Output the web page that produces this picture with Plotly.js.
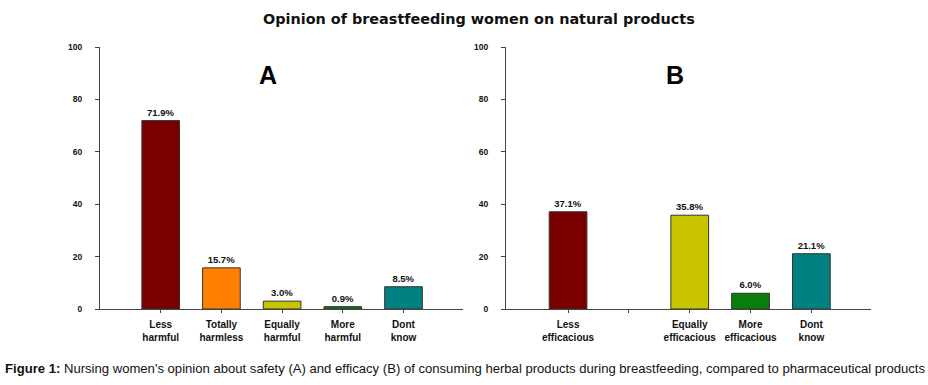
<!DOCTYPE html>
<html>
<head>
<meta charset="utf-8">
<script src="https://cdn.plot.ly/plotly-3.0.1.min.js"></script>
<style>html,body{margin:0;padding:0;background:#fff}#chart{width:928px;height:385px}</style>
</head>
<body>
<div id="chart"></div>
<script>
const labelsA = ["Less<br>harmful", "Totally<br>harmless", "Equally<br>harmful", "More<br>harmful", "Dont<br>know"];
const valuesA = [71.9, 15.7, 3.0, 0.9, 8.5];
const textA = ["71.9%", "15.7%", "3.0%", "0.9%", "8.5%"];
const colorsA = ["#7a0000", "#ff8000", "#c8c400", "#0a7d0a", "#008080"];

const labelsB = ["Less<br>efficacious", " ", "Equally<br>efficacious", "More<br>efficacious", "Dont<br>know"];
const valuesB = [37.1, null, 35.8, 6.0, 21.1];
const textB = ["37.1%", "", "35.8%", "6.0%", "21.1%"];
const colorsB = ["#7a0000", "#ffffff", "#c8c400", "#0a7d0a", "#008080"];

const yTicks = [0, 20, 40, 60, 80, 100];
const title = "Opinion of breastfeeding women on natural products";
const caption = "<b>Figure 1:</b> Nursing women's opinion about safety (A) and efficacy (B) of consuming herbal products during breastfeeding, compared to pharmaceutical products";

const W = 928, H = 385;
const barFont = {family: "Liberation Sans, Arial, sans-serif", size: 9.5, color: "#111", weight: "bold"};

const traces = [
  {type: "bar", x: labelsA, y: valuesA, text: textA, textposition: "outside", cliponaxis: false,
   textfont: barFont, marker: {color: colorsA, line: {color: "#333", width: 1}}, width: 0.62,
   xaxis: "x", yaxis: "y", hoverinfo: "none"},
  {type: "bar", x: labelsB, y: valuesB, text: textB, textposition: "outside", cliponaxis: false,
   textfont: barFont, marker: {color: colorsB, line: {color: "#333", width: 1}}, width: 0.62,
   xaxis: "x2", yaxis: "y2", hoverinfo: "none"}
];

const yDom = [1 - 309 / H, 1 - 47 / H];
const axCommon = {
  showgrid: false, zeroline: false, showline: true, linecolor: "#444", linewidth: 1,
  ticks: "outside", ticklen: 3, tickcolor: "#444", fixedrange: true
};
const xTickFont = {family: "Liberation Sans, Arial, sans-serif", size: 10, color: "#111", weight: "bold"};
const yTickFont = {family: "Liberation Sans, Arial, sans-serif", size: 8.5, color: "#111", weight: "bold"};

const layout = {
  width: W, height: H,
  margin: {l: 0, r: 0, t: 0, b: 0},
  paper_bgcolor: "#fff", plot_bgcolor: "rgba(0,0,0,0)",
  showlegend: false,
  xaxis: Object.assign({}, axCommon, {domain: [100 / W, 463 / W], anchor: "y",
    type: "category", categoryorder: "array", categoryarray: labelsA, range: [-1.0, 4.98],
    tickfont: xTickFont, tickangle: 0, ticklabelstandoff: 3}),
  yaxis: Object.assign({}, axCommon, {domain: yDom, anchor: "x", range: [0, 100],
    tickvals: yTicks, ticklen: 4, tickfont: yTickFont, ticklabelstandoff: 11}),
  xaxis2: Object.assign({}, axCommon, {domain: [506 / W, 871 / W], anchor: "y2",
    type: "category", categoryorder: "array", categoryarray: labelsB, range: [-1.02, 4.98],
    tickfont: xTickFont, tickangle: 0, ticklabelstandoff: 3}),
  yaxis2: Object.assign({}, axCommon, {domain: yDom, anchor: "x2", range: [0, 100],
    tickvals: yTicks, ticklen: 4, tickfont: yTickFont, ticklabelstandoff: 11}),
  annotations: [
    {text: "<b>" + title + "</b>", xref: "paper", yref: "paper", x: 479 / W, y: 1 - 19 / H,
     showarrow: false, xanchor: "center", yanchor: "middle",
     font: {family: "DejaVu Sans, Verdana, sans-serif", size: 14.4, color: "#111"}},
    {text: "<b>A</b>", xref: "paper", yref: "paper", x: 268 / W, y: 1 - 75 / H,
     showarrow: false, xanchor: "center", yanchor: "middle",
     font: {family: "Liberation Sans, Arial, sans-serif", size: 25, color: "#000"}},
    {text: "<b>B</b>", xref: "paper", yref: "paper", x: 675 / W, y: 1 - 75 / H,
     showarrow: false, xanchor: "center", yanchor: "middle",
     font: {family: "Liberation Sans, Arial, sans-serif", size: 25, color: "#000"}},
    {text: caption, xref: "paper", yref: "paper", x: 465 / W, y: 1 - 368 / H,
     showarrow: false, xanchor: "center", yanchor: "middle",
     font: {family: "Liberation Sans, Arial, sans-serif", size: 13.1, color: "#111"}}
  ]
};

Plotly.newPlot("chart", traces, layout, {displayModeBar: false, staticPlot: true});
</script>
</body>
</html>
